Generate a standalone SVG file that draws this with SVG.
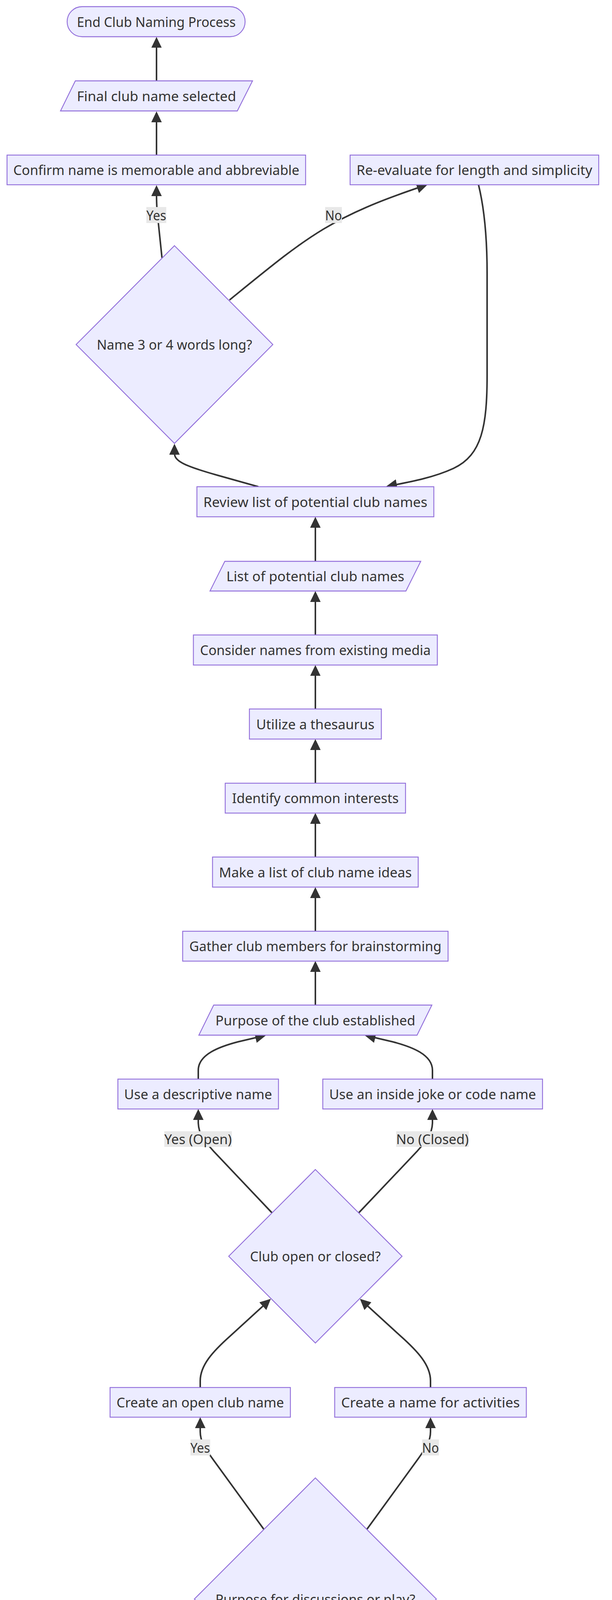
<svg xmlns="http://www.w3.org/2000/svg" width="1568" height="4852" viewBox="0 0 1568 4852">
<defs>
<style>
.n{fill:#ECECFF;stroke:#9370DB;stroke-width:2.3}
.e{fill:none;stroke:#333333;stroke-width:4;marker-end:url(#arr)}
.t{font-family:"Noto Sans","DejaVu Sans",sans-serif;font-size:35px;fill:#333333;text-anchor:middle}
.lb{fill:#e8e8e8;stroke:none}
</style>
<marker id="arr" viewBox="0 0 10 10" refX="7.14" refY="5" markerUnits="userSpaceOnUse" markerWidth="28" markerHeight="27" preserveAspectRatio="none" orient="auto">
<path d="M0,0 L10,5 L0,10 z" fill="#333333"/>
</marker>
</defs>
<rect x="0" y="0" width="1568" height="4852" fill="#ffffff"/>
<g id="connectors">
<path class="e" d="M808,4707 L808,4601.6"/>
<path class="e" d="M808,4517 L808,4411.5"/>
<path class="e" d="M676,3915 L545,3735 C525,3707 513,3690 513,3665 L513,3636"/>
<path class="e" d="M940,3915 L1071,3735 C1091,3707 1103,3690 1103,3665 L1103,3636"/>
<path class="e" d="M513,3552 L513,3535 C513,3495 545,3460 590,3420 L688,3330.4"/>
<path class="e" d="M1103,3552 L1103,3535 C1103,3495 1071,3460 1026,3420 L928,3330.4"/>
<path class="e" d="M697,3105 L548,2948 C525,2922 509,2905 508,2875 L508,2847"/>
<path class="e" d="M919,3105 L1068,2948 C1091,2922 1107,2905 1108,2875 L1108,2847"/>
<path class="e" d="M508,2762 L508,2740 C508,2700 560,2680 610,2667 L674,2652"/>
<path class="e" d="M1108,2762 L1108,2740 C1108,2700 1056,2680 1006,2667 L942,2652"/>
<path class="e" d="M808,2573 L808,2468"/>
<path class="e" d="M808,2384 L808,2279"/>
<path class="e" d="M808,2194 L808,2089"/>
<path class="e" d="M808,2005 L808,1900"/>
<path class="e" d="M808,1815 L808,1710.5"/>
<path class="e" d="M808,1625.5 L808,1521"/>
<path class="e" d="M808,1437 L808,1331"/>
<path class="e" d="M662,1246 L555,1216 C470,1192 447,1180 447,1160 L447,1144"/>
<path class="e" d="M415,660 L403,545 C401,525 401,510 401,495 L401,482"/>
<path class="e" d="M588,768 C786.5,607 841.5,557 1088,475"/>
<path class="e" d="M1226,473 C1240,530 1248,600 1248,700 L1248,960 C1248,1090 1235,1165 1162,1199 C1110,1223 1050,1234 997,1244"/>
<path class="e" d="M401,397 L401,293"/>
<path class="e" d="M401,207 L401,102.5"/>
</g>
<g id="edge-labels">
<rect class="lb" x="375" y="530" width="51" height="41"/>
<text class="t" x="400.5" y="563.5" textLength="51" lengthAdjust="spacingAndGlyphs">Yes</text>
<rect class="lb" x="833" y="530" width="43" height="41"/>
<text class="t" x="854.5" y="563.5" textLength="43" lengthAdjust="spacingAndGlyphs">No</text>
<rect class="lb" x="421" y="2896" width="173" height="40"/>
<text class="t" x="507.5" y="2929" textLength="173" lengthAdjust="spacingAndGlyphs">Yes (Open)</text>
<rect class="lb" x="1015" y="2896" width="186" height="40"/>
<text class="t" x="1108" y="2929" textLength="186" lengthAdjust="spacingAndGlyphs">No (Closed)</text>
<rect class="lb" x="488" y="3685" width="50.5" height="41"/>
<text class="t" x="513" y="3718.5" textLength="50.5" lengthAdjust="spacingAndGlyphs">Yes</text>
<rect class="lb" x="1081.5" y="3685" width="43" height="41"/>
<text class="t" x="1103" y="3718.5" textLength="43" lengthAdjust="spacingAndGlyphs">No</text>
</g>
<g id="end">
<rect class="n" x="172" y="17" width="456" height="77" rx="38.5"/>
<text class="t" x="400.5" y="68.5" textLength="407" lengthAdjust="spacingAndGlyphs">End Club Naming Process</text>
</g>
<g id="final">
<polygon class="n" points="193,207 647,207 608,284 155,284"/>
<text class="t" x="401" y="258.5" textLength="408" lengthAdjust="spacingAndGlyphs">Final club name selected</text>
</g>
<g id="confirm">
<rect class="n" x="18" y="397" width="765" height="76"/>
<text class="t" x="400.5" y="448" textLength="733" lengthAdjust="spacingAndGlyphs">Confirm name is memorable and abbreviable</text>
</g>
<g id="reevaluate">
<rect class="n" x="897" y="397" width="637" height="76"/>
<text class="t" x="1215.5" y="448" textLength="604" lengthAdjust="spacingAndGlyphs">Re-evaluate for length and simplicity</text>
</g>
<g id="decision-length">
<polygon class="n" points="447,629 699,882 447,1135 195,882"/>
<text class="t" x="447" y="895" textLength="398" lengthAdjust="spacingAndGlyphs">Name 3 or 4 words long?</text>
</g>
<g id="review">
<rect class="n" x="504.5" y="1246" width="607" height="77"/>
<text class="t" x="808" y="1297.5" textLength="574" lengthAdjust="spacingAndGlyphs">Review list of potential club names</text>
</g>
<g id="list">
<polygon class="n" points="576,1437 1078,1437 1040,1513 538,1513"/>
<text class="t" x="808" y="1488" textLength="456" lengthAdjust="spacingAndGlyphs">List of potential club names</text>
</g>
<g id="consider">
<rect class="n" x="495.5" y="1625.5" width="625" height="77"/>
<text class="t" x="808" y="1677" textLength="591" lengthAdjust="spacingAndGlyphs">Consider names from existing media</text>
</g>
<g id="thesaurus">
<rect class="n" x="639" y="1815" width="338" height="77"/>
<text class="t" x="808" y="1866.5" textLength="303" lengthAdjust="spacingAndGlyphs">Utilize a thesaurus</text>
</g>
<g id="interests">
<rect class="n" x="577" y="2005" width="462" height="76.5"/>
<text class="t" x="808" y="2056" textLength="427" lengthAdjust="spacingAndGlyphs">Identify common interests</text>
</g>
<g id="ideas">
<rect class="n" x="544.5" y="2194" width="527" height="77"/>
<text class="t" x="808" y="2245.5" textLength="494" lengthAdjust="spacingAndGlyphs">Make a list of club name ideas</text>
</g>
<g id="gather">
<rect class="n" x="468" y="2384" width="680" height="76.5"/>
<text class="t" x="808" y="2435" textLength="646" lengthAdjust="spacingAndGlyphs">Gather club members for brainstorming</text>
</g>
<g id="purpose-established">
<polygon class="n" points="547.5,2573 1106.5,2573 1068.5,2650 509.5,2650"/>
<text class="t" x="808" y="2624.5" textLength="512" lengthAdjust="spacingAndGlyphs">Purpose of the club established</text>
</g>
<g id="descriptive">
<rect class="n" x="302" y="2762.5" width="411.5" height="76.5"/>
<text class="t" x="507.6" y="2813.7" textLength="379" lengthAdjust="spacingAndGlyphs">Use a descriptive name</text>
</g>
<g id="insidejoke">
<rect class="n" x="827" y="2762.5" width="563" height="76.5"/>
<text class="t" x="1108.4" y="2813.7" textLength="530" lengthAdjust="spacingAndGlyphs">Use an inside joke or code name</text>
</g>
<g id="decision-open">
<polygon class="n" points="808,2994 1030,3216 808,3438 586,3216"/>
<text class="t" x="808" y="3229" textLength="335" lengthAdjust="spacingAndGlyphs">Club open or closed?</text>
</g>
<g id="open-name">
<rect class="n" x="282" y="3552" width="462" height="76"/>
<text class="t" x="513" y="3603" textLength="429" lengthAdjust="spacingAndGlyphs">Create an open club name</text>
</g>
<g id="activities-name">
<rect class="n" x="857.5" y="3552" width="491" height="76"/>
<text class="t" x="1103" y="3603" textLength="458" lengthAdjust="spacingAndGlyphs">Create a name for activities</text>
</g>
<g id="decision-purpose">
<polygon class="n" points="808,3783.5 1118,4093.5 808,4403.5 498,4093.5"/>
<text class="t" x="808" y="4106.5" textLength="512" lengthAdjust="spacingAndGlyphs">Purpose for discussions or play?</text>
</g>
<g id="determine">
<rect class="n" x="594" y="4517" width="428" height="76.5"/>
<text class="t" x="808" y="4568" textLength="394" lengthAdjust="spacingAndGlyphs">Determine Club Purpose</text>
</g>
<g id="start">
<rect class="n" x="569" y="4707" width="478" height="76" rx="38"/>
<text class="t" x="808" y="4758" textLength="425" lengthAdjust="spacingAndGlyphs">Start Club Naming Process</text>
</g>
</svg>
